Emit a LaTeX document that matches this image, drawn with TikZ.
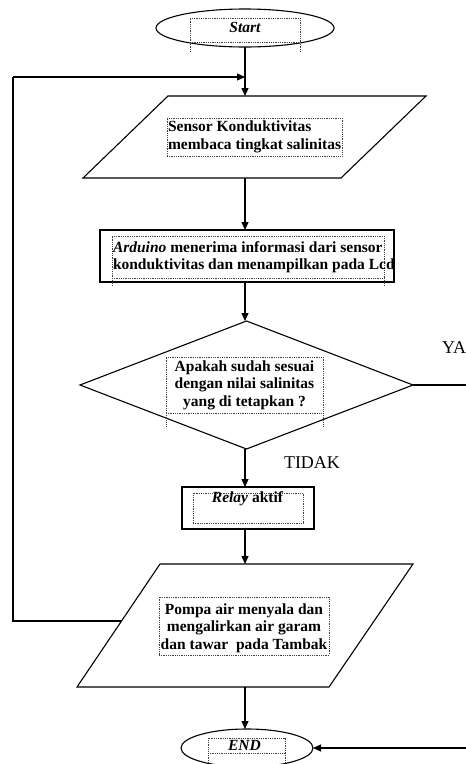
\documentclass[tikz,border=0pt]{standalone}
\usepackage{fontspec}
\setmainfont{Liberation Serif}
\usetikzlibrary{shapes.geometric,arrows.meta,calc}
\newcommand\bodyfont{\fontsize{15.5}{17.5}\selectfont\bfseries}
\begin{document}
\begin{tikzpicture}[x=1pt,y=-1pt,
  every node/.style={inner sep=0pt, outer sep=0pt},
  ln/.style={line width=1.1pt},
  arr/.style={line width=1.1pt,-{Triangle[length=8pt,width=7pt]}},
  tbox/.style={draw=black!75, densely dotted, line width=0.8pt},
  tdot/.style={draw=black!75, densely dotted, line width=0.8pt},
  lbl/.style={font=\bodyfont},
  yn/.style={font=\fontsize{18}{20}\selectfont},
  term/.style={ellipse, draw, line width=1.1pt},
  proc/.style={rectangle, draw, line width=1.3pt},
  io/.style={draw, line width=1.1pt, line join=miter},
  dec/.style={diamond, draw, line width=1.1pt},
]
\fill[white] (0,0) rectangle (466,764);
\useasboundingbox (0,0) rectangle (466,764);
\coordinate (fx) at (245,0);
\coordinate (lp) at (13,77);
\coordinate (edge) at (466,0);

% Start
\node[term, minimum width=178, minimum height=38] (start) at (245,28) {};
\node[tbox, minimum width=110, minimum height=24] (startt) at (245,30) {};
\draw[tdot] (startt.south west) -- ++(0,10);
\draw[tdot] (startt.south east) -- ++(0,10);
\node[lbl, font=\bodyfont\itshape, anchor=base] (startl) at (245,32) {Start};

% Sensor (parallelogram)
\coordinate (p1a) at (168,96);
\coordinate (p1b) at (426,96);
\coordinate (p1c) at (341,178);
\coordinate (p1d) at (83,178);
\draw[io] (p1a) -- (p1b) -- (p1c) -- (p1d) -- cycle;
\coordinate (p1n) at (245,96);
\coordinate (p1s) at (245,178);
\node[tbox, minimum width=175, minimum height=38] (p1t) at (254.5,137) {};
\node[lbl, align=left, anchor=west] (p1l) at ([xshift=1pt]p1t.west) {Sensor Konduktivitas\\membaca tingkat salinitas};

% Arduino
\node[proc, minimum width=294, minimum height=52] (ard) at (247,256) {};
\node[tbox, minimum width=272, minimum height=42] (ardt) at (248,257) {};
\draw[tdot] (ardt.south west) -- ++(0,8);
\draw[tdot] (ardt.south east) -- ++(0,8);
\node[lbl, align=left, anchor=west] (ardl) at ([xshift=1pt]ardt.west) {\textit{Arduino} menerima informasi dari sensor\\konduktivitas dan menampilkan pada Lcd};

% Decision
\node[dec, minimum width=333, minimum height=128] (dec) at (246.5,385) {};
\node[tbox, minimum width=157, minimum height=56] (dect) at (244.5,385) {};
\draw[tdot] (dect.south west) -- ++(0,14);
\draw[tdot] (dect.south east) -- ++(0,14);
\node[lbl, align=center] (decl) at (244.5,385) {Apakah sudah sesuai\\dengan nilai salinitas\\yang di tetapkan ?};

% Relay
\node[proc, minimum width=132, minimum height=42] (rel) at (248,508) {};
\node[tbox, minimum width=110, minimum height=30] (relt) at (248,508) {};
\node[lbl, anchor=base] (rell) at (247.5,502) {\textit{Relay} aktif};

% Pump (parallelogram)
\coordinate (p2a) at (160,564);
\coordinate (p2b) at (413,564);
\coordinate (p2c) at (329,687);
\coordinate (p2d) at (77,687);
\draw[io] (p2a) -- (p2b) -- (p2c) -- (p2d) -- cycle;
\coordinate (p2n) at (245,564);
\coordinate (p2s) at (245,687);
\coordinate (p2w) at ($(p2d)!0.537!(p2a)$);
\node[tbox, minimum width=170, minimum height=58] (p2t) at (244,626) {};
\node[lbl, align=center] (p2l) at (244,628) {Pompa air menyala dan\\mengalirkan air garam\\dan tawar\ \ pada Tambak};

% End
\node[term, minimum width=132, minimum height=38] (end) at (247,748) {};
\node[tbox, minimum width=77, minimum height=15] (endt) at (246.5,745.5) {};
\draw[tdot] (endt.south west) -- ++(0,12);
\draw[tdot] (endt.south east) -- ++(0,12);
\node[lbl, font=\bodyfont\itshape, anchor=base] (endl) at (244.5,750) {END};

% labels
\node[yn, anchor=base west] (ya) at (442,353) {YA};
\node[yn, anchor=base west] (tidak) at (284,468) {TIDAK};

% connectors
\draw[arr] (start.south) -- (p1n);
\draw[arr] (p1s) -- (fx |- ard.north);
\draw[arr] (fx |- ard.south) -- (fx |- dec.north);
\draw[arr] (fx |- dec.south) -- (fx |- rel.north);
\draw[arr] (fx |- rel.south) -- (p2n);
\draw[arr] (p2s) -- (fx |- end.north);
\draw[ln] (p2w) -| (lp);
\draw[arr] (lp) -- (fx |- lp);
\draw[ln] (dec.east) -- (edge |- dec.east);
\draw[arr] (edge |- end.east) -- (end.east);
\end{tikzpicture}
\end{document}
